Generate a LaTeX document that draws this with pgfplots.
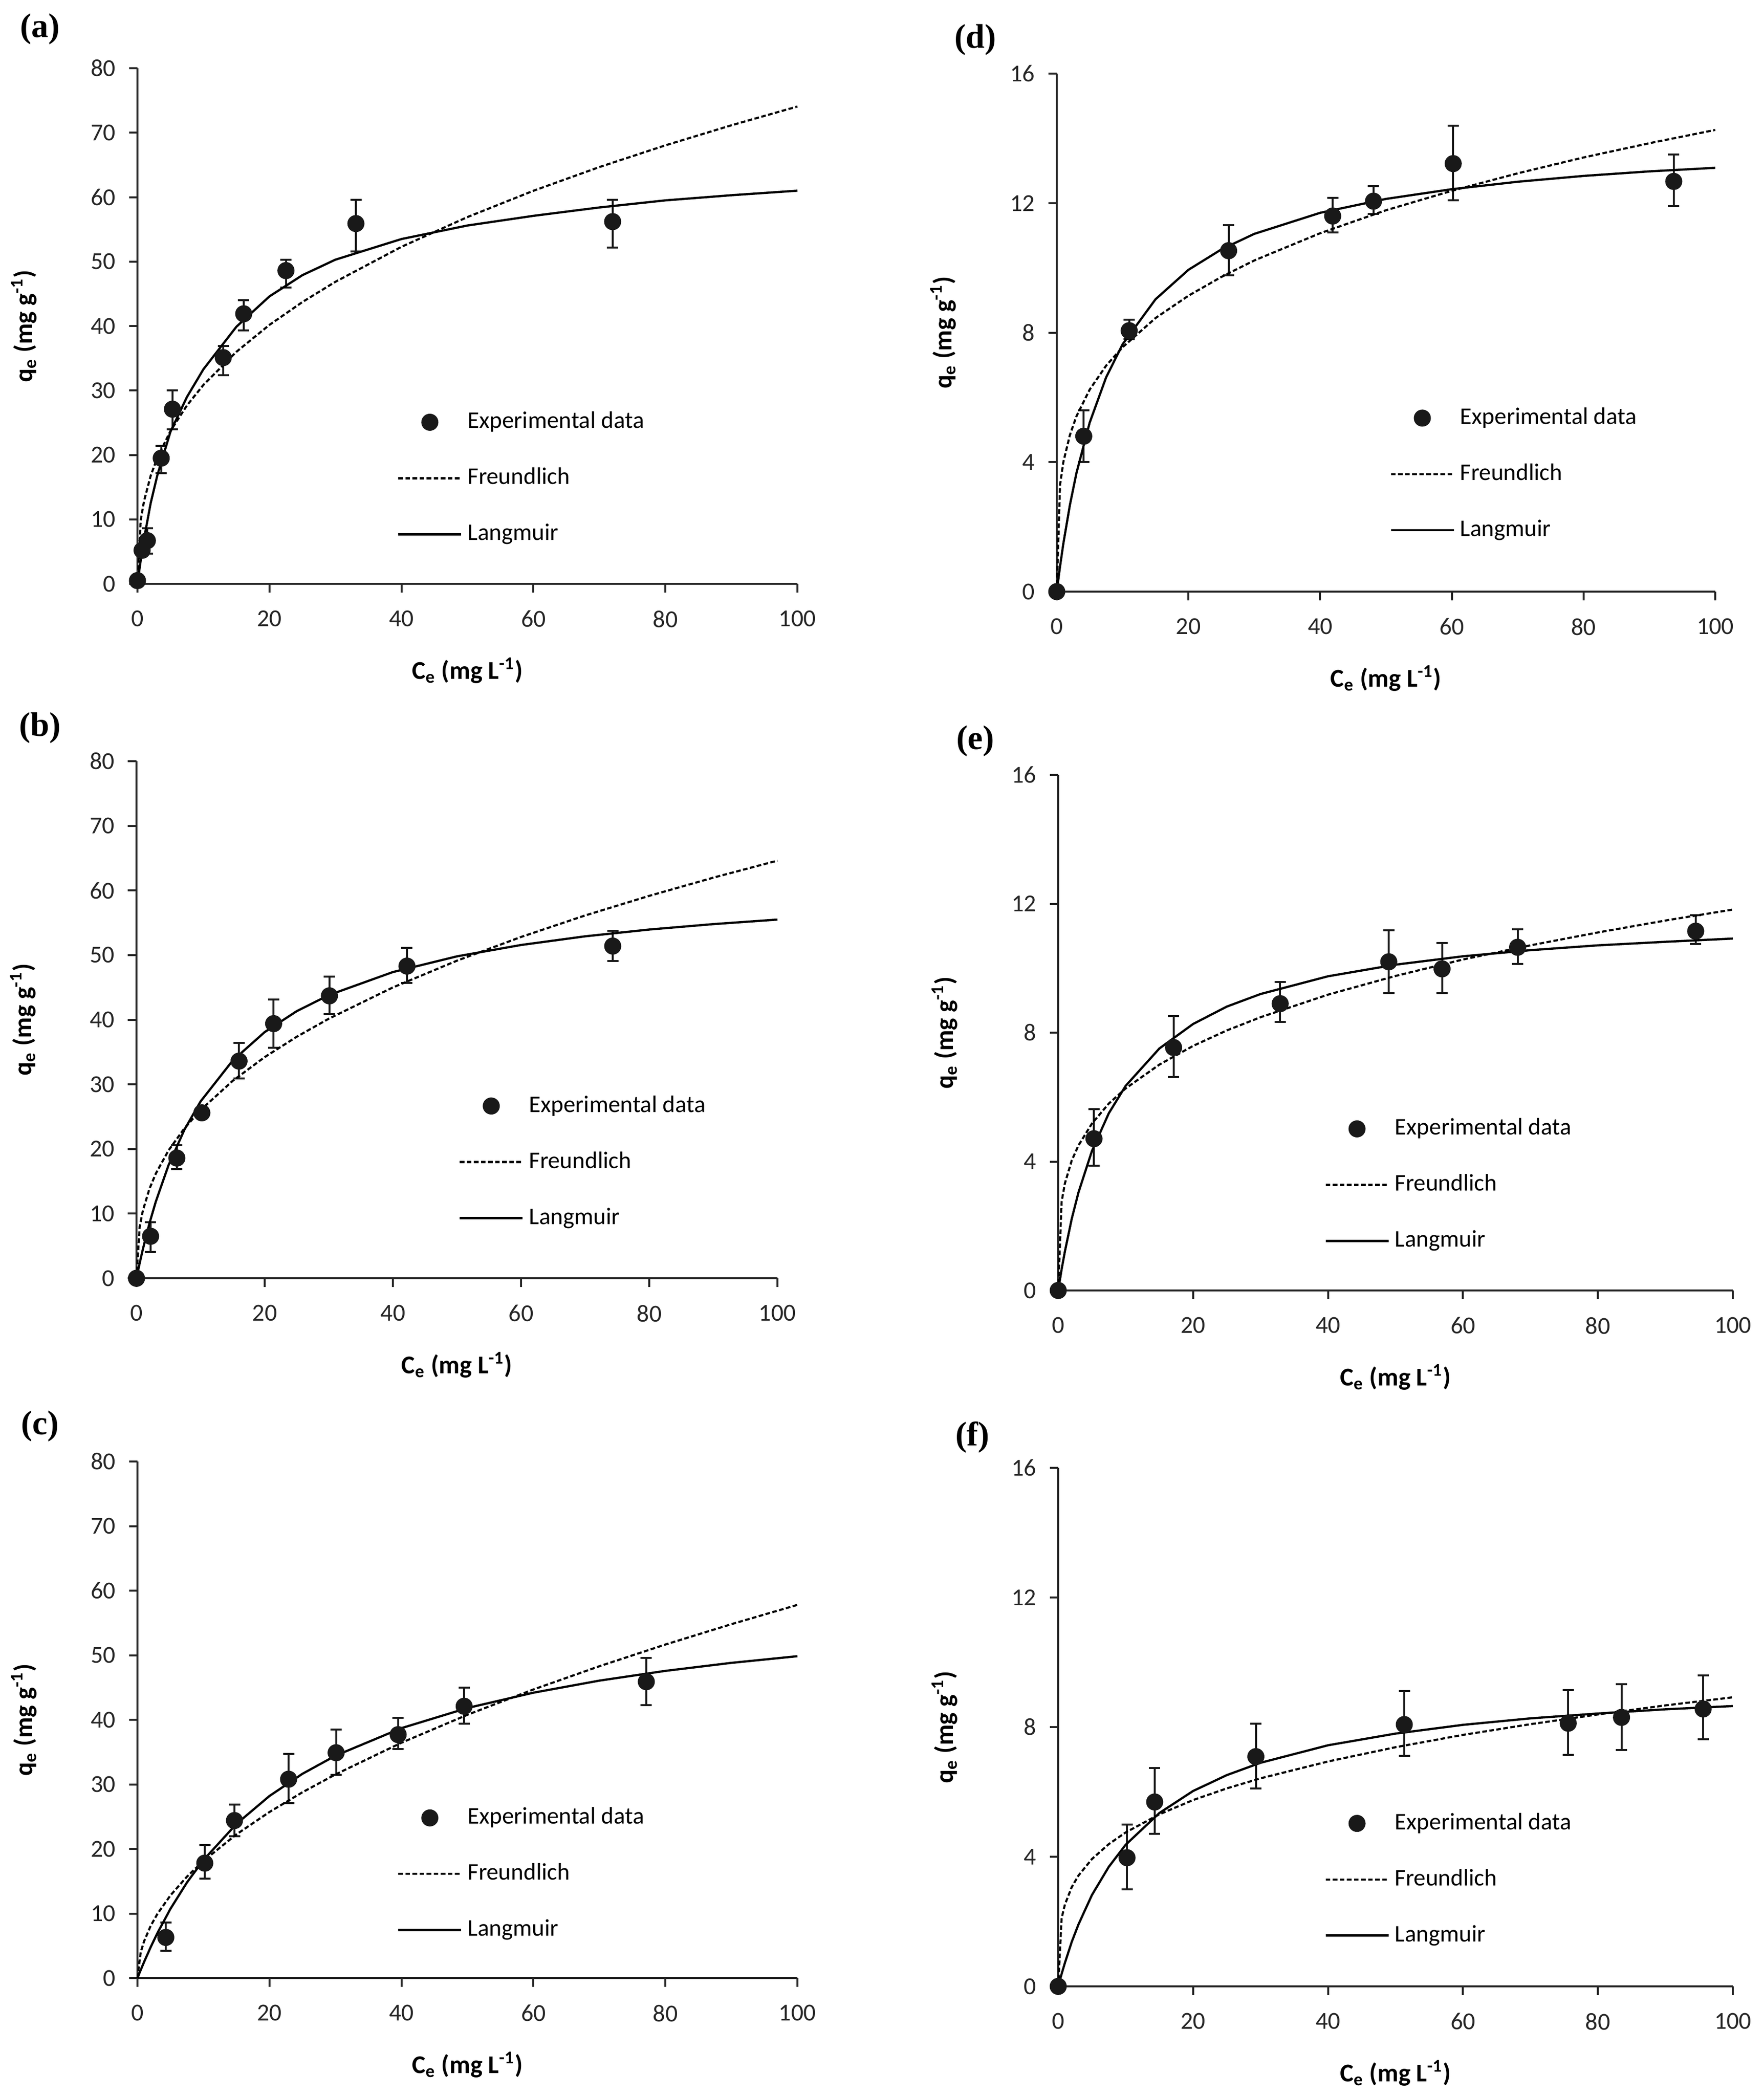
\documentclass[border=0pt]{standalone}
\usepackage{fontspec}
\setmainfont{Carlito}
\newfontfamily\panelfont{Liberation Serif}
\usepackage{pgfplots}
\pgfplotsset{compat=1.18}

\pgfplotsset{
  iso/.style={
    scale only axis,
    axis lines=left,
    axis line style={-, line width=0.8pt, black!85},
    every tick/.style={line width=0.8pt, black!85},
    tick align=outside,
    major tick length=3.5pt,
    xmin=0, xmax=100, xtick={0,20,...,100},
    ymin=0,
    clip=false,
    /pgf/number format/assume math mode=true,
    tick label style={font=\fontsize{10}{12}\selectfont, text=black!85},
    xticklabel style={yshift=-4pt},
    yticklabel style={xshift=-2pt},
    xlabel={\textbf{C\textsubscript{e} (mg L\textsuperscript{-1})}},
    ylabel={\textbf{q\textsubscript{e} (mg g\textsuperscript{-1})}},
    label style={font=\fontsize{10.5}{12}\selectfont},
    xlabel style={at={([yshift=-35.6pt]axis description cs:0.5,0)}, anchor=center},
    ylabel style={at={([xshift=-46.6pt]axis description cs:0,0.5)}, anchor=center},
    legend cell align=left,
    legend image code/.code={\draw[mark repeat=2, mark phase=2, #1] plot coordinates {(0pt,0pt) (12.9pt,0pt) (25.8pt,0pt)};},
    legend style={draw=none, fill=none, inner sep=0pt, anchor=west,
      row sep=14pt, column sep=2.2pt, font=\fontsize{9.8}{12}\selectfont,
      nodes={inner sep=0pt, text height=7pt, text depth=2pt}},
  },
  expt/.style={only marks, mark=*, mark size=3.3pt,
    mark options={fill=black!90, draw=black!90},
    error bars/y dir=both, error bars/y explicit,
    error bars/error bar style={line width=0.8pt, black!90},
    error bars/error mark options={rotate=90, mark size=2.3pt, line width=0.8pt, black!90}},
  freund/.style={no marks, black, line width=0.85pt, dash pattern=on 1.9pt off 1pt},
  lang/.style={no marks, black, line width=0.9pt},
}

\begin{document}
\begin{tikzpicture}
\path[use as bounding box] (0,0) rectangle (723.6pt,-860.2pt);

\node[font=\fontsize{14}{16}\selectfont\panelfont\bfseries] at (16.4pt,-12pt) {(a)};
\node[font=\fontsize{14}{16}\selectfont\panelfont\bfseries] at (16.4pt,-298.8pt) {(b)};
\node[font=\fontsize{14}{16}\selectfont\panelfont\bfseries] at (16.4pt,-585.4pt) {(c)};
\node[font=\fontsize{14}{16}\selectfont\panelfont\bfseries] at (400.2pt,-16.4pt) {(d)};
\node[font=\fontsize{14}{16}\selectfont\panelfont\bfseries] at (400.2pt,-304.2pt) {(e)};
\node[font=\fontsize{14}{16}\selectfont\panelfont\bfseries] at (399pt,-589.8pt) {(f)};

% (a)
\begin{axis}[iso, at={(56.4pt,-239.6pt)}, anchor=south west,
  width=270.8pt, height=211.6pt, ymax=80, ytick={0,10,...,80},
  legend style={at={(0.393,0.2047)}}]
\addplot[expt] table[x=x, y=y, y error plus=ep, y error minus=em] {
x y ep em
0 0.5 0 0
0.7 5.2 0 0
1.5 6.7 1.9 2.0
3.6 19.5 1.9 2.3
5.3 27.1 2.9 3.1
13.0 35.1 1.8 2.7
16.1 41.9 2.1 2.6
22.5 48.6 1.7 2.6
33.1 55.9 3.7 4.3
72.0 56.2 3.4 4.0
};
\addlegendentry{Experimental data}
\addplot[freund] table {
0 0
0.5 9.89
1 12.87
2 16.75
3 19.54
5 23.72
7.5 27.68
10 30.87
15 36.01
20 40.18
25 43.73
30 46.87
40 52.29
50 56.91
60 60.99
70 64.67
80 68.04
90 71.15
100 74.06
};
\addlegendentry{Freundlich}
\addplot[lang] table {
0 0
0.5 3.7
1 7.0
2 12.5
3 16.8
5 23.6
7.5 29.0
10 33.3
15 39.9
20 44.6
25 47.9
30 50.3
40 53.5
50 55.6
60 57.1
70 58.4
80 59.5
90 60.3
100 61.0
};
\addlegendentry{Langmuir}
\end{axis}

% (b)
\begin{axis}[iso, at={(56pt,-524.6pt)}, anchor=south west,
  width=263pt, height=212.2pt, ymax=80, ytick={0,10,...,80},
  legend style={at={(0.502,0.2248)}}]
\addplot[expt] table[x=x, y=y, y error plus=ep, y error minus=em] {
x y ep em
0 0 0 0
2.2 6.5 2.2 2.4
6.3 18.6 2.0 1.7
10.2 25.6 0 0
16.0 33.6 2.8 2.7
21.4 39.4 3.7 3.7
30.1 43.7 3.0 2.8
42.2 48.3 2.8 2.6
74.3 51.4 2.4 2.3
};
\addlegendentry{Experimental data}
\addplot[freund] table {
0 0
0.5 7.97
1 10.48
2 13.78
3 16.17
5 19.79
7.5 23.23
10 26.02
15 30.54
20 34.22
25 37.37
30 40.16
40 45.00
50 49.14
60 52.81
70 56.14
80 59.17
90 61.99
100 64.62
};
\addlegendentry{Freundlich}
\addplot[lang] table {
0 0
0.5 2.34
1 4.51
2 8.41
3 11.82
5 17.50
7.5 23.03
10 27.36
15 33.68
20 38.09
25 41.33
30 43.81
40 47.38
50 49.81
60 51.57
70 52.91
80 53.96
90 54.80
100 55.50
};
\addlegendentry{Langmuir}
\end{axis}

% (c)
\begin{axis}[iso, at={(56.4pt,-811.8pt)}, anchor=south west,
  width=270.8pt, height=212pt, ymax=80, ytick={0,10,...,80},
  legend style={at={(0.393,0.2016)}}]
\addplot[expt] table[x=x, y=y, y error plus=ep, y error minus=em] {
x y ep em
4.3 6.3 2.3 2.1
10.2 17.8 2.8 2.4
14.7 24.4 2.5 2.4
22.9 30.8 3.9 3.7
30.1 34.9 3.6 3.4
39.5 37.7 2.6 2.2
49.5 42.1 2.9 2.7
77.1 45.9 3.7 3.6
};
\addlegendentry{Experimental data}
\addplot[freund] table {
0 0
0.5 4.02
1 5.70
2 8.08
3 9.91
5 12.81
7.5 15.71
10 18.15
15 22.26
20 25.72
25 28.78
30 31.54
40 36.45
50 40.78
60 44.70
70 48.30
80 51.66
90 54.81
100 57.80
};
\addlegendentry{Freundlich}
\addplot[lang] table {
0 0
0.5 1.27
1 2.49
2 4.79
3 6.92
5 10.73
7.5 14.81
10 18.28
15 23.88
20 28.20
25 31.64
30 34.44
40 38.71
50 41.83
60 44.20
70 46.07
80 47.58
90 48.82
100 49.85
};
\addlegendentry{Langmuir}
\end{axis}

% (d)
\begin{axis}[iso, at={(433.6pt,-242.8pt)}, anchor=south west,
  width=270.2pt, height=212.6pt, ymax=16, ytick={0,4,...,16},
  legend style={at={(0.505,0.2268)}}]
\addplot[expt] table[x=x, y=y, y error plus=ep, y error minus=em] {
x y ep em
0 0 0 0
4.1 4.8 0.8 0.8
11.0 8.06 0.34 0.26
26.1 10.53 0.79 0.76
41.9 11.6 0.56 0.51
48.1 12.06 0.47 0.39
60.2 13.22 1.17 1.13
93.7 12.67 0.83 0.77
};
\addlegendentry{Experimental data}
\addplot[freund] table {
0 0
0.5 3.30
1 4.00
2 4.84
3 5.42
5 6.24
7.5 6.98
10 7.55
15 8.45
20 9.14
25 9.72
30 10.23
40 11.07
50 11.78
60 12.38
70 12.92
80 13.41
90 13.85
100 14.26
};
\addlegendentry{Freundlich}
\addplot[lang] table {
0 0
0.5 0.78
1 1.48
2 2.68
3 3.67
5 5.22
7.5 6.62
10 7.64
15 9.03
20 9.94
25 10.57
30 11.05
40 11.70
50 12.13
60 12.43
70 12.66
80 12.84
90 12.98
100 13.09
};
\addlegendentry{Langmuir}
\end{axis}

% (e)
\begin{axis}[iso, at={(434.2pt,-529.6pt)}, anchor=south west,
  width=276.8pt, height=211.6pt, ymax=16, ytick={0,4,...,16},
  legend style={at={(0.394,0.2047)}}]
\addplot[expt] table[x=x, y=y, y error plus=ep, y error minus=em] {
x y ep em
0 0 0 0
5.3 4.71 0.91 0.84
17.1 7.54 0.98 0.91
32.9 8.90 0.68 0.57
49.0 10.20 0.98 0.98
56.9 9.98 0.81 0.76
68.1 10.65 0.56 0.52
94.5 11.15 0.50 0.40
};
\addlegendentry{Experimental data}
\addplot[freund] table {
0 0
0.5 2.75
1 3.33
2 4.03
3 4.50
5 5.18
7.5 5.80
10 6.27
15 7.01
20 7.59
25 8.07
30 8.48
40 9.18
50 9.76
60 10.27
70 10.71
80 11.11
90 11.48
100 11.82
};
\addlegendentry{Freundlich}
\addplot[lang] table {
0 0
0.5 0.65
1 1.22
2 2.22
3 3.04
5 4.33
7.5 5.50
10 6.35
15 7.51
20 8.27
25 8.81
30 9.20
40 9.75
50 10.11
60 10.37
70 10.56
80 10.71
90 10.82
100 10.92
};
\addlegendentry{Langmuir}
\end{axis}

% (f)
\begin{axis}[iso, at={(434.2pt,-815.2pt)}, anchor=south west,
  width=276.8pt, height=212.8pt, ymax=16, ytick={0,4,...,16},
  legend style={at={(0.394,0.2062)}}]
\addplot[expt] table[x=x, y=y, y error plus=ep, y error minus=em] {
x y ep em
0 0 0 0
10.2 3.97 1.02 0.97
14.3 5.69 1.05 0.98
29.3 7.09 1.02 0.99
51.3 8.08 1.03 0.96
75.6 8.12 1.02 0.97
83.5 8.30 1.02 1.00
95.6 8.56 1.03 0.93
};
\addlegendentry{Experimental data}
\addplot[freund] table {
0 0
0.5 2.10
1 2.53
2 3.06
3 3.42
5 3.93
7.5 4.39
10 4.75
15 5.31
20 5.75
25 6.11
30 6.42
40 6.94
50 7.38
60 7.76
70 8.09
80 8.39
90 8.67
100 8.92
};
\addlegendentry{Freundlich}
\addplot[lang] table {
0 0
0.5 0.38
1 0.73
2 1.37
3 1.91
5 2.82
7.5 3.69
10 4.37
15 5.35
20 6.03
25 6.52
30 6.90
40 7.44
50 7.80
60 8.07
70 8.27
80 8.42
90 8.55
100 8.65
};
\addlegendentry{Langmuir}
\end{axis}
\end{tikzpicture}
\end{document}
